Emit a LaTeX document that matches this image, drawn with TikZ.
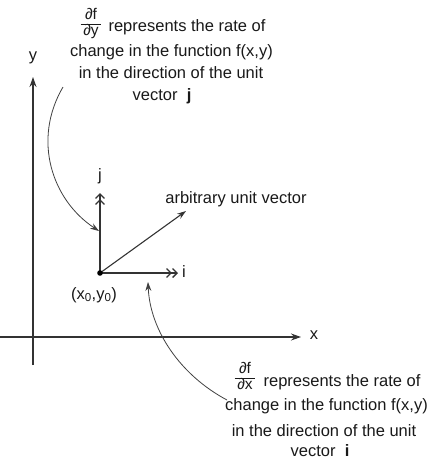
\documentclass[tikz,border=0pt]{standalone}
\usepackage{fontspec}
\setmainfont{Liberation Sans}
\usetikzlibrary{arrows.meta}
\newcommand{\myfrac}[2]{{\renewcommand\arraystretch{0.78}\setlength\arrayrulewidth{0.7pt}\begin{tabular}{@{\,}c@{\,}}#1\\\hline #2\end{tabular}}}
\begin{document}
\begin{tikzpicture}[x=1pt,y=-1pt,
  txt/.style={inner sep=0pt,font=\fontsize{16.5}{20}\selectfont,text=black!90},
  frac/.style={inner sep=0pt,font=\fontsize{15.5}{16.5}\selectfont,text=black!90},
  axis/.style={line width=1.1pt,draw=black!80,-{Stealth[length=10pt,width=7pt]}},
  vec/.style={line width=1.1pt,draw=black!80,-{Straight Barb[length=4.5pt,width=9pt,line width=1.3pt]Straight Barb[length=4.5pt,width=9pt,line width=1.3pt]}},
  curvy/.style={line width=0.8pt,draw=black!75,-{Stealth[length=9pt,width=6pt]}}]
\useasboundingbox (0,0) rectangle (432,466);
% axes
\coordinate (yb) at (33,365);
\coordinate (yt) at (33,77);
\coordinate (xl) at (0,337);
\coordinate (xr) at (301,337);
\draw[axis] (yb) -- (yt);
\draw[axis] (xl) -- (xr);
\node[txt] (ylab) at (33,58) {y};
\node[txt] (xlab) at (314,335) {x};
% origin and vectors
\coordinate (O) at (100,273);
\coordinate (it) at (178,273);
\coordinate (jt) at (100,193);
\coordinate (at) at (186,211);
\draw[vec] (O) -- (it);
\draw[vec] (O) -- (jt);
\draw[line width=1.1pt,draw=black!80,-{Stealth[length=9pt,width=6pt]}] (O) -- (at);
\fill[black] (O) circle (2.8);
\node[txt] (ilab) at (184,272) {i};
\node[txt] (jlab) at (100,176) {j};
\node[txt] (alab) at (236,199) {arbitrary unit vector};
\node[txt] (olab) at (94,295) {(x\textsubscript{0},y\textsubscript{0})};
% top text
\node[frac] (tf) at (91,24) {\myfrac{∂f}{∂y}};
\node[txt] (t1) at (187,27) {represents the rate of};
\node[txt] (t2) at (171.5,52) {change in the function f(x,y)};
\node[txt] (t3) at (171,73) {in the direction of the unit};
\node[txt] (t4) at (162,96) {vector~~\textbf{j}};
% bottom text
\node[frac] (bf) at (245,378) {\myfrac{∂f}{∂x}};
\node[txt] (b1) at (342,382) {represents the rate of};
\node[txt] (b2) at (326.5,406) {change in the function f(x,y)};
\node[txt] (b3) at (324,431) {in the direction of the unit};
\node[txt] (b4) at (320,451) {vector~~\textbf{i}};
% curved arrows
\coordinate (cs1) at (63,87);
\coordinate (ce1) at (99,231);
\draw[curvy] (cs1) .. controls (32,140) and (52,200) .. (ce1);
\coordinate (cs2) at (227,400);
\coordinate (ce2) at (148,282);
\draw[curvy] (cs2) .. controls (180,375) and (150,330) .. (ce2);
\end{tikzpicture}
\end{document}
